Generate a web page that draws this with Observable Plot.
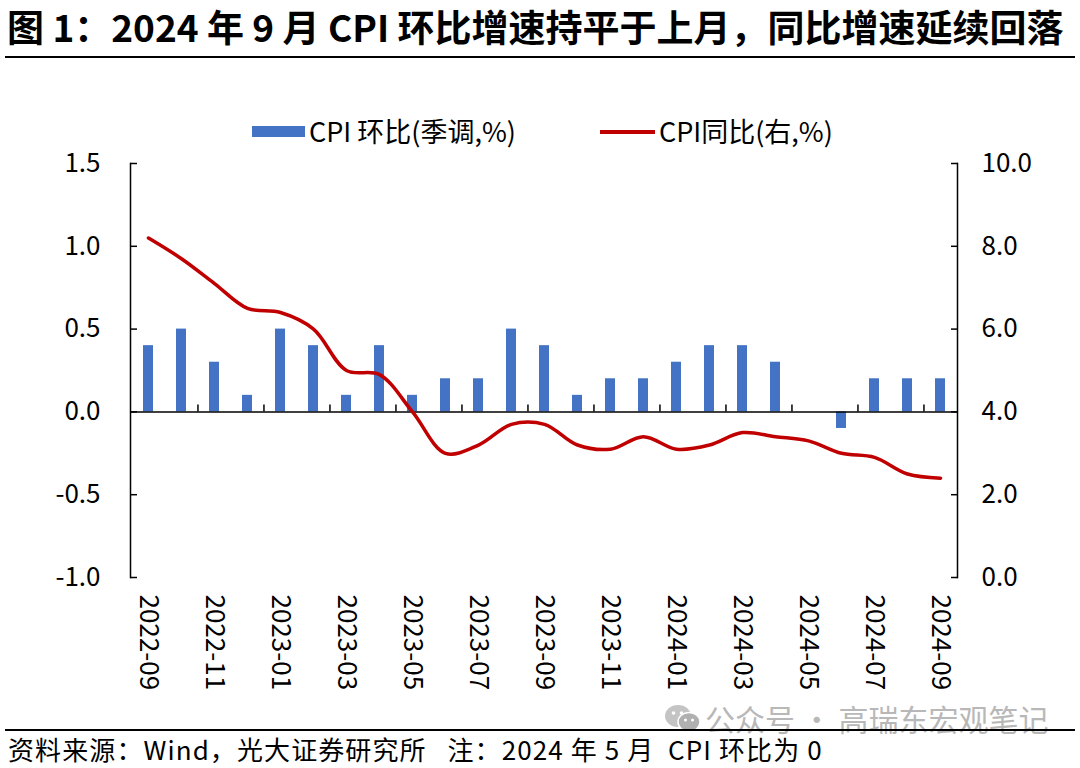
<!DOCTYPE html>
<html>
<head>
<meta charset="utf-8">
<script src="https://cdn.jsdelivr.net/npm/d3@7"></script>
<script src="https://cdn.jsdelivr.net/npm/@observablehq/plot@0.6"></script>
<style>
  html, body { margin: 0; padding: 0; background: #fff; }
  body { width: 1080px; height: 768px; position: relative; overflow: hidden;
         font-family: "Noto Sans CJK SC", "Noto Sans", sans-serif; color: #000; }
  #chart { position: absolute; left: 0; top: 0; }
  .abs { position: absolute; white-space: nowrap; }
  #title { left: 7px; top: 2px; font-size: 37px; font-weight: bold; line-height: 48px; }
  #rule1 { left: 5px; top: 56px; width: 1070px; height: 2px; background: #000; }
  #rule2 { left: 5px; top: 729px; width: 1070px; height: 2px; background: #000; }
  #footer { left: 8px; top: 732px; font-size: 26px; line-height: 34px; letter-spacing: 1.1px; }
  #wm { left: 705px; top: 699px; font-size: 30px; line-height: 38px; color: #b8b8b8; }
  #wmicon { position: absolute; left: 664px; top: 704px; }
  .leg { top: 112px; font-size: 27px; line-height: 38px; }
  .sw { position: absolute; }
</style>
</head>
<body>
<div id="chart"></div>
<div id="title" class="abs">图 1：2024 年 9 月 CPI 环比增速持平于上月，同比增速延续回落</div>
<div id="rule1" class="abs"></div>
<div class="sw" style="left:252px;top:126px;width:53px;height:11px;background:#4472C4"></div>
<div class="abs leg" style="left:309px">CPI 环比(季调,%)</div>
<div class="sw" style="left:600px;top:130px;width:55px;height:3.5px;background:#C00000"></div>
<div class="abs leg" style="left:659px">CPI同比(右,%)</div>
<svg id="wmicon" width="38" height="30" viewBox="0 0 38 30">
  <ellipse cx="14" cy="12" rx="13" ry="11" fill="#c4c4c4"/>
  <ellipse cx="25" cy="18" rx="11" ry="9.5" fill="#b0b0b0" stroke="#fff" stroke-width="1.5"/>
  <circle cx="9.5" cy="9" r="1.8" fill="#fff"/><circle cx="17.5" cy="9" r="1.8" fill="#fff"/>
  <circle cx="21.5" cy="16" r="1.5" fill="#fff"/><circle cx="28.5" cy="16" r="1.5" fill="#fff"/>
</svg>
<div id="wm" class="abs">公众号 · 高瑞东宏观笔记</div>
<div id="rule2" class="abs"></div>
<div id="footer" class="abs">资料来源：Wind，光大证券研究所&nbsp;&nbsp;&nbsp;注：2024 年 5 月&nbsp;&nbsp;CPI 环比为 0</div>
<script>
// ---- data ----
const months = ["2022-09","2022-10","2022-11","2022-12","2023-01","2023-02","2023-03","2023-04",
  "2023-05","2023-06","2023-07","2023-08","2023-09","2023-10","2023-11","2023-12",
  "2024-01","2024-02","2024-03","2024-04","2024-05","2024-06","2024-07","2024-08","2024-09"];
const momSA = [0.4,0.5,0.3,0.1,0.5,0.4,0.1,0.4,0.1,0.2,0.2,0.5,0.4,0.1,0.2,0.2,0.3,0.4,0.4,0.3,0,-0.1,0.2,0.2,0.2];
const yoy = [8.2,7.7,7.1,6.5,6.4,6.0,5.0,4.9,4.0,3.0,3.2,3.7,3.7,3.2,3.1,3.4,3.1,3.2,3.5,3.4,3.3,3.0,2.9,2.5,2.4];
const leftTicks = [-1.0,-0.5,0.0,0.5,1.0,1.5];
const rightTicks = [0,2,4,6,8,10];
const labelMonths = months.filter((d, i) => i % 2 === 0);

// ---- layout ----
const W = 1080, H = 768, mL = 130, mR = 123, mT = 163, mB = 191;
const step = (W - mL - mR) / months.length;
const leftDomain = [-1, 1.5], rightDomain = [0, 10];
const toLeft = v => leftDomain[0] + (v - rightDomain[0]) * (leftDomain[1] - leftDomain[0]) / (rightDomain[1] - rightDomain[0]);

const data = months.map((m, i) => ({month: m, mom: momSA[i], yoy: yoy[i]}));
const boundaries = months.filter((d, i) => i > 0 && i % 2 === 0);

const chart = Plot.plot({
  width: W, height: H,
  marginLeft: mL, marginRight: mR, marginTop: mT, marginBottom: mB,
  style: {fontFamily: '"Noto Sans CJK SC", "Noto Sans", sans-serif', fontSize: "26px", color: "#000", background: "transparent", overflow: "visible"},
  x: {type: "band", domain: months, paddingInner: 0.7, paddingOuter: 0.35},
  y: {domain: leftDomain},
  marks: [
    Plot.barY(data, {x: "month", y: "mom", fill: "#4472C4"}),
    Plot.ruleY([0], {stroke: "#000", strokeWidth: 1.5}),
    Plot.ruleX(boundaries, {x: d => d, y1: 0, y2: 0.042, dx: -step / 2, stroke: "#000", strokeWidth: 1.5}),
    Plot.lineY(data, {x: "month", y: d => toLeft(d.yoy), stroke: "#C00000", strokeWidth: 3.5, curve: "catmull-rom"}),
    Plot.frame({anchor: "left", stroke: "#000", strokeWidth: 1.5}),
    Plot.frame({anchor: "right", stroke: "#000", strokeWidth: 1.5}),
    Plot.axisY({anchor: "left", ticks: leftTicks, tickSize: -7, tickPadding: 37, tickFormat: d => d.toFixed(1), label: null, strokeWidth: 1.5}),
    Plot.axisY({anchor: "right", ticks: rightTicks.map(toLeft), tickSize: -7, tickPadding: 31, tickFormat: d => ((d - leftDomain[0]) * (rightDomain[1] - rightDomain[0]) / (leftDomain[1] - leftDomain[0])).toFixed(1), label: null, strokeWidth: 1.5}),
    Plot.axisX({anchor: "bottom", ticks: labelMonths, tickSize: 0, tickRotate: 90, tickPadding: 17, label: null})
  ]
});
document.getElementById("chart").appendChild(chart);
</script>
</body>
</html>
